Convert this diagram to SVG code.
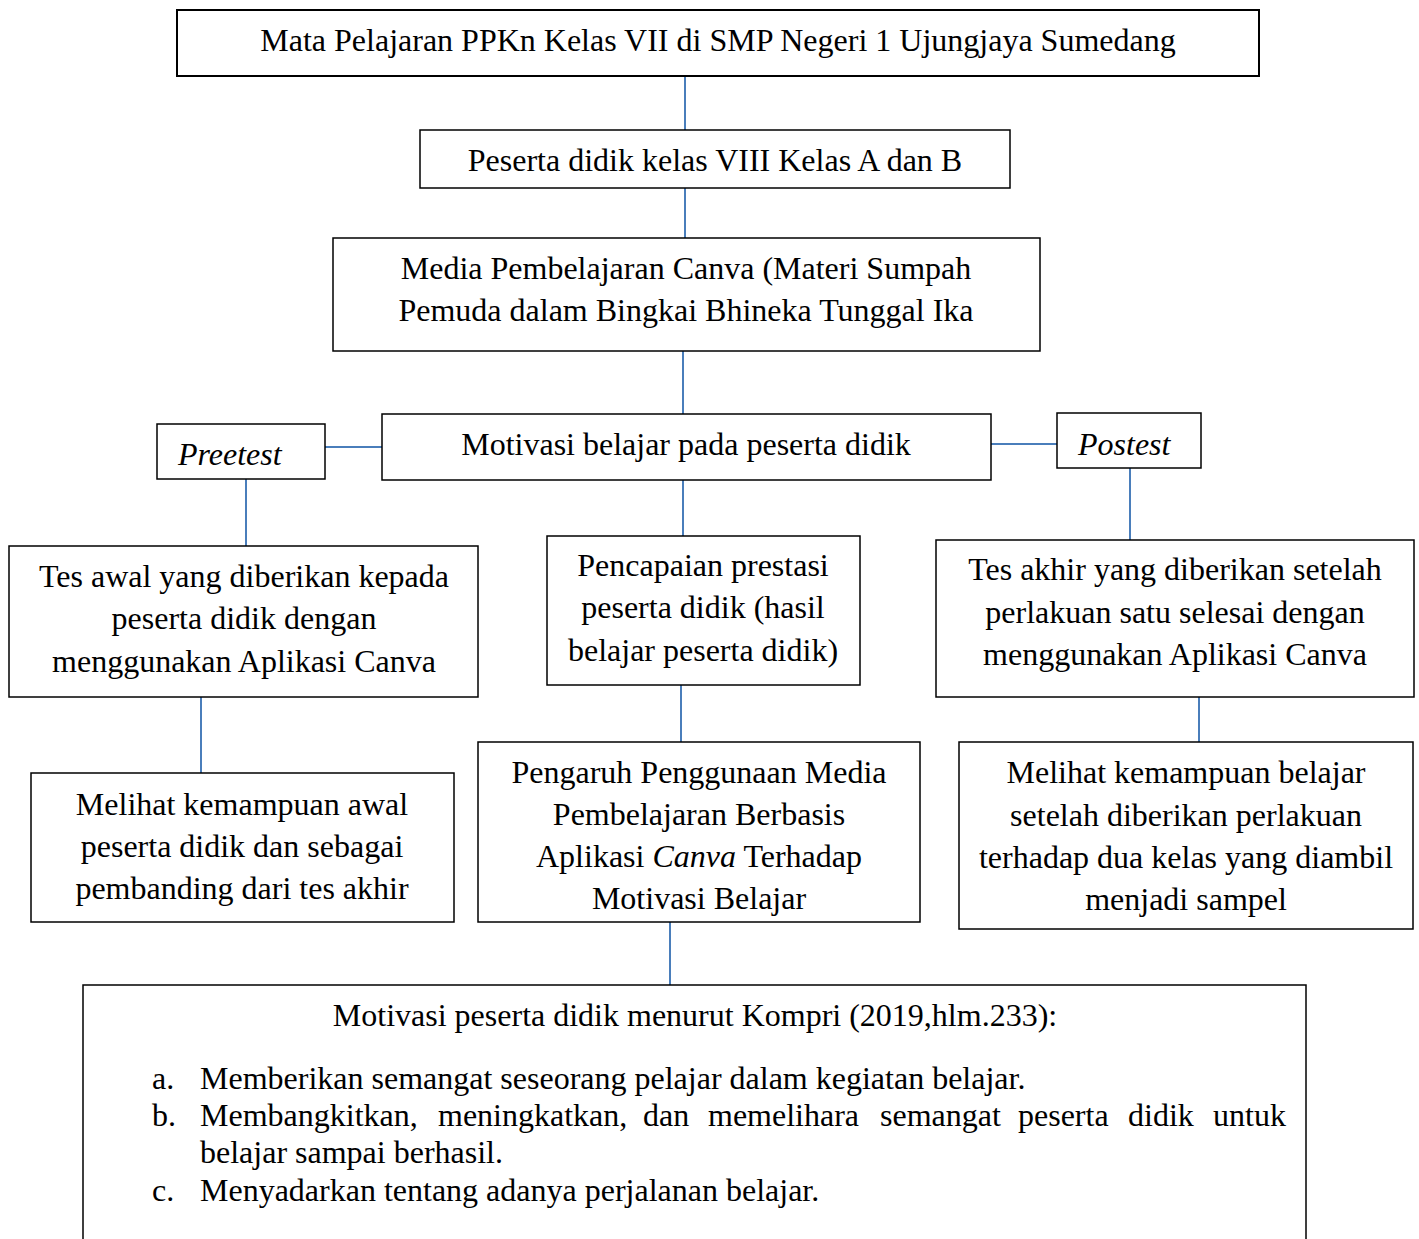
<svg xmlns="http://www.w3.org/2000/svg" width="1419" height="1239" viewBox="0 0 1419 1239">
<style>
.box{fill:#fff;stroke:#000;stroke-width:1.5}
.t{font-family:"Liberation Serif","Times New Roman",serif;font-size:32px;fill:#000}
.c{text-anchor:middle}
.i{font-style:italic}
.ln{stroke:#4a7ebb;stroke-width:2;fill:none}
</style>
<rect width="1419" height="1239" fill="#fff"/>
<g id="connectors">
<line class="ln" x1="685" y1="76" x2="685" y2="130"/>
<line class="ln" x1="685" y1="188" x2="685" y2="238"/>
<line class="ln" x1="683" y1="351" x2="683" y2="414"/>
<line class="ln" x1="325" y1="447" x2="382" y2="447"/>
<line class="ln" x1="991" y1="444" x2="1057" y2="444"/>
<line class="ln" x1="246" y1="479" x2="246" y2="546"/>
<line class="ln" x1="1130" y1="468" x2="1130" y2="540"/>
<line class="ln" x1="683" y1="480" x2="683" y2="536"/>
<line class="ln" x1="201" y1="697" x2="201" y2="773"/>
<line class="ln" x1="681" y1="685" x2="681" y2="742"/>
<line class="ln" x1="1199" y1="697" x2="1199" y2="742"/>
<line class="ln" x1="670" y1="922" x2="670" y2="985"/>
</g>
<g id="n1"><rect class="box" x="177" y="10" width="1082" height="66" style="stroke-width:2"/>
<text class="t c" x="718" y="51">Mata Pelajaran PPKn Kelas VII di SMP Negeri 1 Ujungjaya Sumedang</text></g>
<g id="n2"><rect class="box" x="420" y="130" width="590" height="58"/>
<text class="t c" x="715" y="171">Peserta didik kelas VIII Kelas A dan B</text></g>
<g id="n3"><rect class="box" x="333" y="238" width="707" height="113"/>
<text class="t c" x="686" y="279">Media Pembelajaran Canva (Materi Sumpah</text>
<text class="t c" x="686" y="321">Pemuda dalam Bingkai Bhineka Tunggal Ika</text></g>
<g id="n4"><rect class="box" x="382" y="414" width="609" height="66"/>
<text class="t c" x="686" y="455">Motivasi belajar pada peserta didik</text></g>
<g id="n5"><rect class="box" x="157" y="424" width="168" height="55"/>
<text class="t i" x="178" y="465">Preetest</text></g>
<g id="n6"><rect class="box" x="1057" y="413" width="144" height="55"/>
<text class="t i" x="1078" y="455">Postest</text></g>
<g id="n7"><rect class="box" x="9" y="546" width="469" height="151"/>
<text class="t c" x="244" y="587">Tes awal yang diberikan kepada</text>
<text class="t c" x="244" y="629">peserta didik dengan</text>
<text class="t c" x="244" y="672">menggunakan Aplikasi Canva</text></g>
<g id="n8"><rect class="box" x="547" y="536" width="313" height="149"/>
<text class="t c" x="703" y="576">Pencapaian prestasi</text>
<text class="t c" x="703" y="618">peserta didik (hasil</text>
<text class="t c" x="703" y="661">belajar peserta didik)</text></g>
<g id="n9"><rect class="box" x="936" y="540" width="478" height="157"/>
<text class="t c" x="1175" y="580">Tes akhir yang diberikan setelah</text>
<text class="t c" x="1175" y="623">perlakuan satu selesai dengan</text>
<text class="t c" x="1175" y="665">menggunakan Aplikasi Canva</text></g>
<g id="n10"><rect class="box" x="31" y="773" width="423" height="149"/>
<text class="t c" x="242" y="815">Melihat kemampuan awal</text>
<text class="t c" x="242" y="857">peserta didik dan sebagai</text>
<text class="t c" x="242" y="899">pembanding dari tes akhir</text></g>
<g id="n11"><rect class="box" x="478" y="742" width="442" height="180"/>
<text class="t c" x="699" y="783">Pengaruh Penggunaan Media</text>
<text class="t c" x="699" y="825">Pembelajaran Berbasis</text>
<text class="t c" x="699" y="867">Aplikasi <tspan class="i">Canva</tspan> Terhadap</text>
<text class="t c" x="699" y="909">Motivasi Belajar</text></g>
<g id="n12"><rect class="box" x="959" y="742" width="454" height="187"/>
<text class="t c" x="1186" y="783">Melihat kemampuan belajar</text>
<text class="t c" x="1186" y="826">setelah diberikan perlakuan</text>
<text class="t c" x="1186" y="868">terhadap dua kelas yang diambil</text>
<text class="t c" x="1186" y="910">menjadi sampel</text></g>
<g id="n13"><rect class="box" x="83" y="985" width="1223" height="280"/>
<text class="t c" x="695" y="1026">Motivasi peserta didik menurut Kompri (2019,hlm.233):</text>
<text class="t" x="152" y="1089">a.</text>
<text class="t" x="200" y="1089">Memberikan semangat seseorang pelajar dalam kegiatan belajar.</text>
<text class="t" x="152" y="1126">b.</text>
<text class="t" y="1126"><tspan x="200">Membangkitkan,</tspan><tspan x="438">meningkatkan,</tspan><tspan x="643">dan</tspan><tspan x="708">memelihara</tspan><tspan x="880">semangat</tspan><tspan x="1018">peserta</tspan><tspan x="1128">didik</tspan><tspan x="1213">untuk</tspan></text>
<text class="t" x="200" y="1163">belajar sampai berhasil.</text>
<text class="t" x="152" y="1201">c.</text>
<text class="t" x="200" y="1201">Menyadarkan tentang adanya perjalanan belajar.</text></g>
</svg>
